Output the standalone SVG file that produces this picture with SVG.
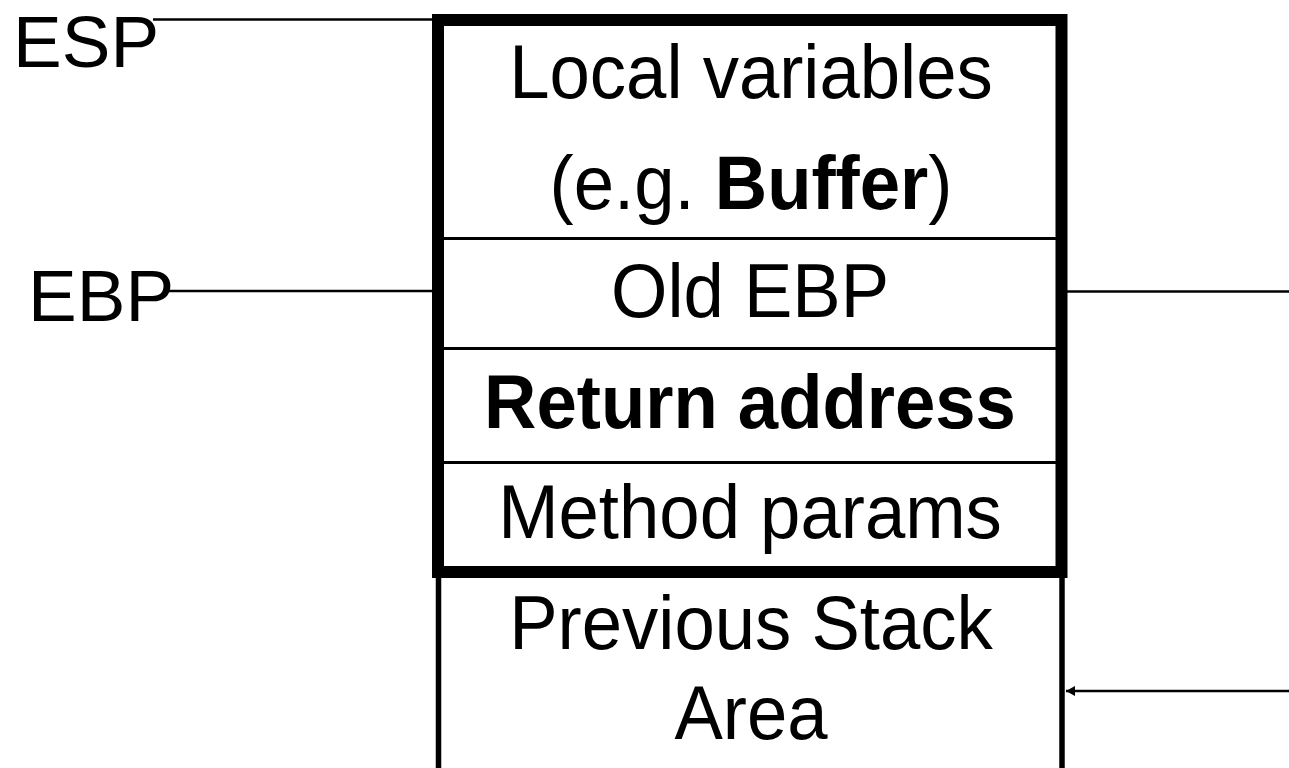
<svg xmlns="http://www.w3.org/2000/svg" width="1289" height="768" viewBox="0 0 1289 768">
  <style>
    .txt { font-family: "Liberation Sans", Arial, sans-serif; font-size: 72.5px; fill: #000; }
    .lbl { font-family: "Liberation Sans", Arial, sans-serif; font-size: 73px; fill: #000; }
    .mid { text-anchor: middle; }
    .b { font-weight: bold; }
    .frame { fill: none; stroke: #000; stroke-width: 12; stroke-linejoin: miter; }
    .side { fill: none; stroke: #000; stroke-width: 5.5; }
    .div { stroke: #000; stroke-width: 3; }
    .wire { fill: none; stroke: #000; stroke-width: 2.6; }
  </style>
  <defs>
    <marker id="head" markerUnits="userSpaceOnUse" markerWidth="10" markerHeight="12" refX="9" refY="5" orient="auto">
      <path d="M0,0 L9,5 L0,10 Z" fill="#000"/>
    </marker>
  </defs>
  <rect width="1289" height="768" fill="#fff"/>

  <!-- register labels -->
  <g id="esp-label"><text class="lbl" x="13" y="66.5">ESP</text></g>
  <g id="ebp-label"><text class="lbl" x="28" y="321">EBP</text></g>

  <!-- caller's stack area, open at the bottom -->
  <g id="previous-stack">
    <line class="side" x1="438.5" y1="572" x2="438.5" y2="768"/>
    <line class="side" x1="1062" y1="572" x2="1062" y2="768"/>
    <text class="txt mid" transform="translate(751,649) scale(1,1.05)">Previous Stack</text>
    <text class="txt mid" transform="translate(751,739) scale(1,1.05)">Area</text>
  </g>

  <!-- current stack frame; cell text is stretched slightly in height about its baseline -->
  <g id="frame">
    <path class="frame" d="M438,20 H1061.5 V572 H438 Z"/>
    <line class="div" x1="444" y1="238.5" x2="1056" y2="238.5"/>
    <line class="div" x1="444" y1="348.5" x2="1056" y2="348.5"/>
    <line class="div" x1="444" y1="462.5" x2="1056" y2="462.5"/>
  </g>
  <g id="local-variables">
    <text class="txt mid" transform="translate(751,98) scale(1,1.05)">Local variables</text>
    <text class="txt mid" transform="translate(751,209) scale(1,1.05)">(e.g. <tspan class="b">Buffer</tspan>)</text>
  </g>
  <g id="old-ebp"><text class="txt mid" transform="translate(750,317) scale(1,1.05)">Old EBP</text></g>
  <g id="return-address"><text class="txt mid b" transform="translate(750,428) scale(1,1.05)">Return address</text></g>
  <g id="method-params"><text class="txt mid" transform="translate(750,538) scale(1,1.05)">Method params</text></g>

  <!-- pointers -->
  <g id="connectors">
    <line class="wire" x1="153" y1="19.5" x2="438" y2="19.5"/>
    <line class="wire" x1="168" y1="291" x2="432" y2="291"/>
    <line class="wire" x1="1067" y1="291.5" x2="1289" y2="291.5"/>
    <line class="wire" x1="1289" y1="691" x2="1066" y2="691" marker-end="url(#head)"/>
  </g>
</svg>
